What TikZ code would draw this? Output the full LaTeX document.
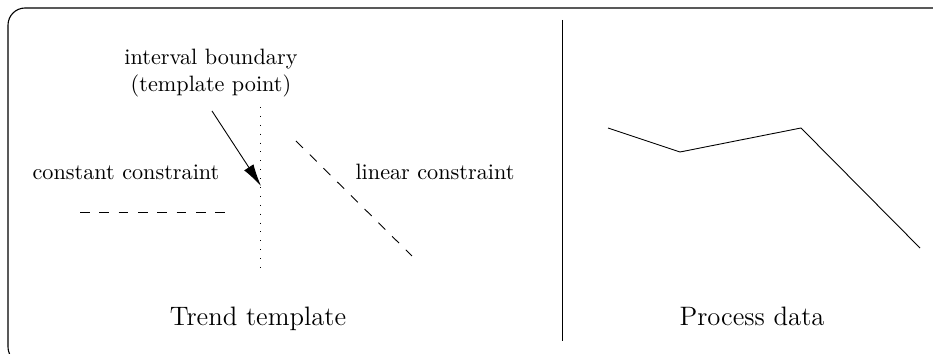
\documentclass[tikz,border=0pt]{standalone}
\usetikzlibrary{arrows.meta}
\begin{document}
\begin{tikzpicture}[x=0.45pt,y=-0.45pt,
  lbl/.style={inner sep=0pt,font=\normalsize},
  title/.style={inner sep=0pt,font=\large,anchor=base},
  constr/.style={dash pattern=on 4.4pt off 4.3pt},
  bound/.style={dash pattern=on 0.4pt off 3.6pt},
  pointer/.style={-{Latex[length=10pt,width=5pt]}}]
\useasboundingbox (0,0) rectangle (933,354);
% frame (cut by the page on the right and bottom)
\draw[rounded corners=7.7pt,line width=0.5pt] (8,8) rectangle (952,364);
% separator
\coordinate (s1) at (562,20);
\coordinate (s2) at (562,341);
\draw (s1) -- (s2);
% trend template panel
\node[lbl,align=center] (ib) at (211,73) {interval boundary\\(template point)};
\coordinate (b1) at (260.5,107);
\coordinate (b2) at (260.5,273);
\draw[bound] (b1) -- (b2);
\coordinate (a1) at (212,111);
\coordinate (a2) at (261,186);
\draw[pointer] (a1) -- (a2);
\node[lbl] (cc) at (126,172) {constant constraint};
\coordinate (h1) at (80,212.5);
\coordinate (h2) at (225,212.5);
\draw[constr] (h1) -- (h2);
\coordinate (d1) at (296,141);
\coordinate (d2) at (412,256);
\draw[constr] (d1) -- (d2);
\node[lbl] (lc) at (435,172) {linear constraint};
\node[title] (tt) at (258,326) {Trend template};
% process data panel
\coordinate (p1) at (608,128);
\coordinate (p2) at (680,152);
\coordinate (p3) at (801,128);
\coordinate (p4) at (920,248);
\draw (p1) -- (p2) -- (p3) -- (p4);
\node[title] (pd) at (752,326) {Process data};
\end{tikzpicture}
\end{document}
